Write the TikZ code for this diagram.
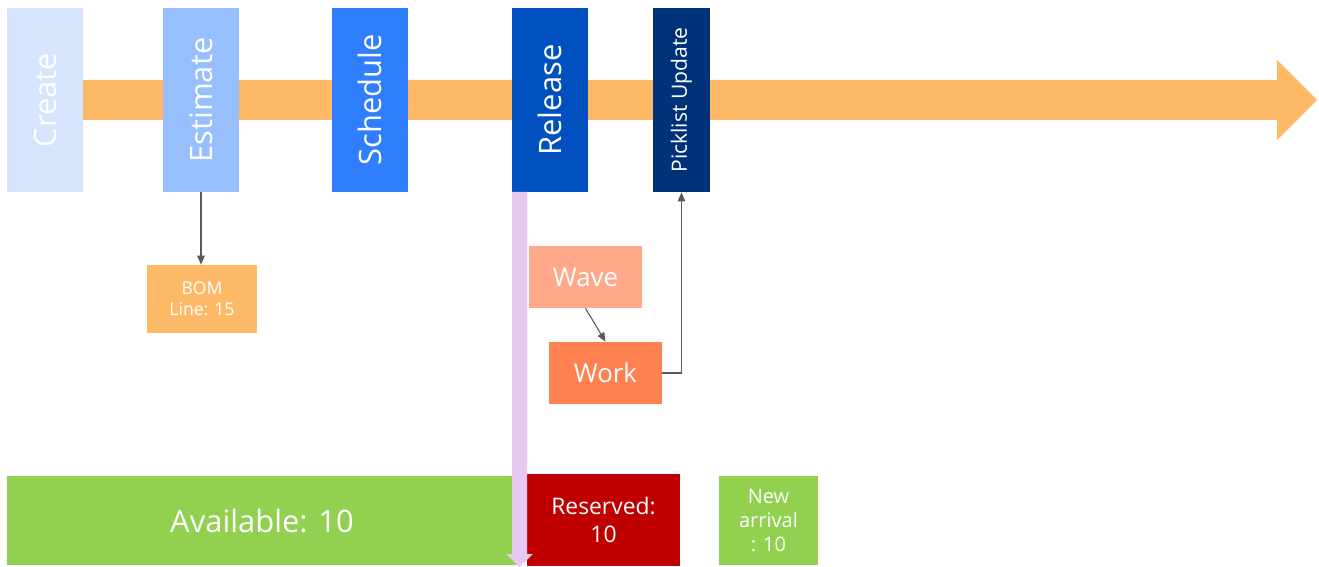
\documentclass[tikz,border=0pt]{standalone}
\usepackage{fontspec}
\setmainfont{Open Sans}
\usetikzlibrary{arrows.meta}
\definecolor{createblue}{HTML}{D6E5FD}
\definecolor{estimateblue}{HTML}{97BEFD}
\definecolor{scheduleblue}{HTML}{2E7EFE}
\definecolor{releaseblue}{HTML}{0050BF}
\definecolor{picklistblue}{HTML}{00327A}
\definecolor{floworange}{HTML}{FDB966}
\definecolor{wavesalmon}{HTML}{FFA98A}
\definecolor{workorange}{HTML}{FF8152}
\definecolor{stockgreen}{HTML}{92D050}
\definecolor{reservedred}{HTML}{C00000}
\definecolor{lilac}{HTML}{E6C8F0}
\definecolor{linkgray}{HTML}{595959}

\begin{document}
\begin{tikzpicture}[
  box/.style={inner sep=0pt,text=white,align=center},
  stage/.style={box,minimum width=1.52cm,minimum height=3.68cm,font=\fontsize{17.6}{20}\selectfont},
  link/.style={-{Triangle[length=1.8mm,width=1.5mm]},linkgray,line width=0.6pt},
  x=0.02cm,y=-0.02cm
]
  \useasboundingbox (0,0) rectangle (1319,567);
  % main flow arrow
  \fill[floworange] (83,80) -- (1277,80) -- (1277,60) -- (1317,100) --
    (1277,140) -- (1277,120) -- (83,120) -- cycle;
  \foreach \name/\cx/\col/\txt in {create/45/createblue/Create,
      estimate/201/estimateblue/Estimate,
      schedule/370/scheduleblue/Schedule,
      release/550/releaseblue/Release}
    \node[stage,fill=\col] (\name) at (\cx,100) {\rotatebox{90}{\txt}};
  \node[stage,fill=picklistblue,minimum width=1.14cm,font=\fontsize{12}{14}\selectfont]
    (picklist) at (681.5,100) {\rotatebox{90}{Picklist Update}};
  \node[box,fill=floworange,minimum width=2.2cm,minimum height=1.36cm,
    font=\fontsize{10}{12}\selectfont] (bom) at (202,299) {BOM\\Line: 15};
  \node[box,fill=wavesalmon,minimum width=2.26cm,minimum height=1.24cm,
    font=\fontsize{14.7}{17}\selectfont] (wave) at (585.5,277) {Wave};
  \node[box,fill=workorange,minimum width=2.26cm,minimum height=1.24cm,
    font=\fontsize{14.7}{17}\selectfont] (work) at (605.5,373) {Work};
  \node[box,fill=stockgreen,minimum width=10.2cm,minimum height=1.8cm,
    font=\fontsize{17.6}{20}\selectfont] (available) at (262,520.5) {Available: 10};
  \node[box,fill=reservedred,minimum width=3.06cm,minimum height=1.84cm,
    font=\fontsize{13}{16}\selectfont] (reserved) at (603.5,520) {Reserved:\\10};
  \node[box,fill=stockgreen,minimum width=1.98cm,minimum height=1.8cm,
    font=\fontsize{11.4}{13.7}\selectfont] (arrival) at (768.5,520.5) {New\\arrival\\: 10};
  \draw[link] (estimate.south) -- (estimate.south |- bom.north);
  \draw[link] (wave.south) -- (work.north);
  \draw[link] (work.east) -| (picklist.south);
  % reservation arrow
  \fill[lilac] (512,192) -- (527,192) -- (527,554) -- (533,554) --
    (519.5,567) -- (506,554) -- (512,554) -- cycle;
\end{tikzpicture}
\end{document}
